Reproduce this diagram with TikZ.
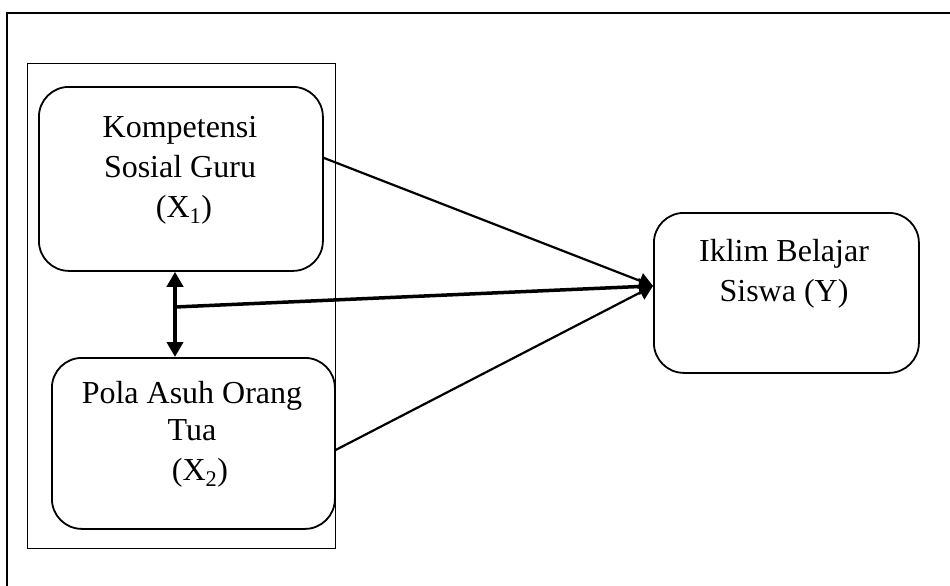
\documentclass[tikz,border=0pt]{standalone}
\usepackage{fontspec}
\setmainfont{Liberation Serif}
\usetikzlibrary{arrows.meta}
\begin{document}
\begin{tikzpicture}[x=1pt,y=-1pt,
  varbox/.style={draw,line width=1.8pt,rounded corners=30pt,inner sep=0pt,anchor=north west},
  lbl/.style={inner sep=0pt,anchor=base,font=\fontsize{32pt}{40pt}\selectfont},
  thinarrow/.style={line width=2.2pt,-{Triangle[length=14pt,width=16pt]}},
  thickarrow/.style={line width=3.5pt,-{Triangle[length=14pt,width=16pt]}},
  dblarrow/.style={line width=3.8pt,{Triangle[length=15pt,width=16pt]}-{Triangle[length=15pt,width=16pt]}}]
\useasboundingbox (0,0) rectangle (950,586);
\clip (0,0) rectangle (950,586);
% outer frame (extends beyond picture)
\draw[line width=1.6pt] (7,13) rectangle (980,620);
% inner group frame
\node[draw,line width=1.3pt,inner sep=0pt,anchor=north west,minimum width=308pt,minimum height=485pt] (grp) at (27,63) {};
% boxes
\node[varbox,minimum width=284pt,minimum height=184pt] (x1) at (38,86) {};
\node[varbox,minimum width=283pt,minimum height=171pt] (x2) at (51,357) {};
\node[varbox,minimum width=265pt,minimum height=160pt] (y) at (653,212) {};
% texts
\node[lbl] (x1a) at (180,137) {Kompetensi};
\node[lbl] (x1b) at (180,177) {Sosial Guru};
\node[lbl] (x1c) at (184,217) {(X\textsubscript{1})};
\node[lbl] (x2a) at (192,403) {Pola Asuh Orang};
\node[lbl] (x2b) at (192,440) {Tua};
\node[lbl] (x2c) at (200,480) {(X\textsubscript{2})};
\node[lbl] (ya) at (784,261) {Iklim Belajar};
\node[lbl] (yb) at (784,301) {Siswa (Y)};
% connectors
\coordinate (v) at (175,307);
\coordinate (tgt) at ([yshift=7pt]y.west);
\draw[thinarrow] ([yshift=21pt]x1.east) -- (tgt);
\draw[thinarrow] ([yshift=-6.5pt]x2.east) -- (tgt);
\draw[thickarrow] (v) -- (tgt);
\draw[dblarrow] (v |- x1.south) -- (v |- x2.north);
\end{tikzpicture}
\end{document}
